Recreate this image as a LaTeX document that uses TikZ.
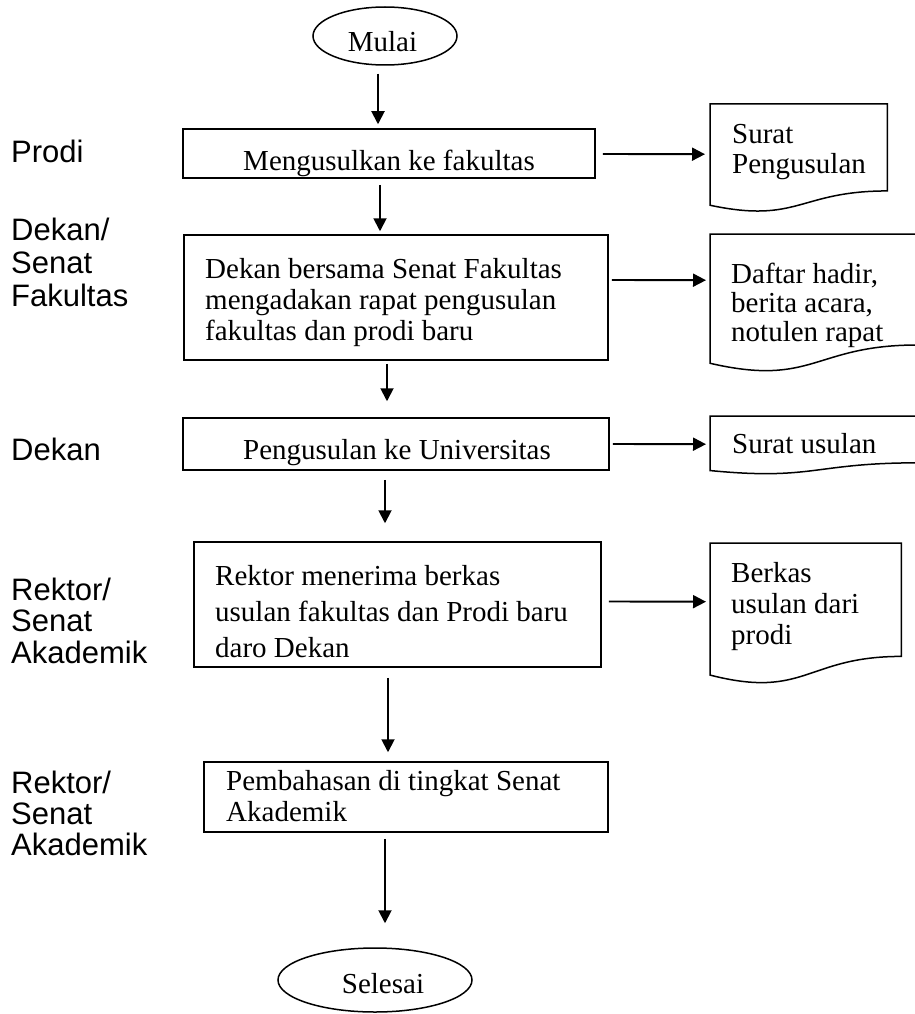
\documentclass[tikz,border=0pt]{standalone}
\usepackage{fontspec}
\setmainfont{Liberation Serif}
\newfontfamily\lanefont{Liberation Sans}
\usetikzlibrary{arrows.meta,calc,shapes.geometric}
% stacked lines with a given line pitch; baseline = first line
\newcommand\txtlines[2]{\parbox[t]{20cm}{\raggedright\baselineskip=#1pt\relax #2\par}}
% document symbol drawn on an invisible frame node
\newcommand\docpath[1]{%
  \draw[docline] (#1.north west) -- (#1.north east)
    -- ($(#1.north east)!0.802!(#1.south east)$)
    .. controls ($(#1.north)!0.802!(#1.south)$) and ($(#1.north)!1.1075!(#1.south)$)
    .. ($(#1.north west)!0.934!(#1.south west)$) -- cycle;}
\begin{document}
\begin{tikzpicture}[x=1pt,y=-1pt,
  flowbox/.style={draw, line width=1.5pt, rectangle, inner sep=0pt},
  docframe/.style={rectangle, inner sep=0pt, anchor=north west},
  terminal/.style={draw, line width=1.5pt, ellipse, inner sep=0pt},
  serif/.style={font=\fontsize{29}{31}\selectfont, inner sep=0pt},
  lane/.style={font=\lanefont\fontsize{31}{35}\selectfont, inner sep=0pt, anchor=base west},
  flow/.style={line width=1.9pt, -{Triangle[length=13pt,width=13pt]}},
  docline/.style={line width=1.5pt, line join=miter}
]
\useasboundingbox (0,0) rectangle (915,1014);

% lane labels
\node[lane] (l1) at (11,162) {Prodi};
\node[lane] (l2) at (11,240) {\txtlines{33}{Dekan/\\Senat\\Fakultas}};
\node[lane] (l3) at (11,460) {Dekan};
\node[lane] (l4) at (11,600) {\txtlines{31.5}{Rektor/\\Senat\\Akademik}};
\node[lane] (l5) at (11,793) {\txtlines{31}{Rektor/\\Senat\\Akademik}};

% terminals
\node[terminal, minimum width=144pt, minimum height=58pt] (start) at (385,36) {};
\node[serif, anchor=base] (startT) at (382.5,52) {Mulai};
\node[terminal, minimum width=194pt, minimum height=64pt] (stop) at (375,980) {};
\node[serif, anchor=base] (stopT) at (383,993) {Selesai};

% process boxes
\node[flowbox, minimum width=412pt, minimum height=49pt] (b1) at (389,153.5) {};
\begin{scope}
  \clip (b1.south west) rectangle (b1.north east);
  \node[serif, anchor=base] (b1T) at (389,170) {Mengusulkan ke fakultas};
\end{scope}

\node[flowbox, minimum width=424pt, minimum height=125pt] (b2) at (396,297.5) {};
\node[serif, anchor=base west] (b2T) at (205,278)
  {\txtlines{31}{Dekan bersama Senat Fakultas\\mengadakan rapat pengusulan\\fakultas dan prodi baru}};

\node[flowbox, minimum width=426pt, minimum height=52pt] (b3) at (396,444) {};
\node[serif, anchor=base] (b3T) at (397,459) {Pengusulan ke Universitas};

\node[flowbox, minimum width=407pt, minimum height=125pt] (b4) at (397.5,604.5) {};
\node[serif, anchor=base west] (b4T) at (215,585)
  {\txtlines{36}{Rektor menerima berkas\\usulan fakultas dan Prodi baru\\daro Dekan}};

\node[flowbox, minimum width=404pt, minimum height=70pt] (b5) at (406,797) {};
\node[serif, anchor=base west] (b5T) at (226,790)
  {\txtlines{31}{Pembahasan di tingkat Senat\\Akademik}};

% documents
\node[docframe, minimum width=177pt, minimum height=108pt] (d1) at (710,104) {};
\docpath{d1}
\node[serif, anchor=base west] (d1T) at (732,143) {\txtlines{30}{Surat\\Pengusulan}};

\node[docframe, minimum width=207pt, minimum height=138pt] (d2) at (710,234) {};
\docpath{d2}
\node[serif, anchor=base west] (d2T) at (731,283) {\txtlines{29}{Daftar hadir,\\berita acara,\\notulen rapat}};

\node[docframe, minimum width=207pt, minimum height=58pt] (d3) at (710,416) {};
\docpath{d3}
\node[serif, anchor=base west] (d3T) at (732,453) {Surat usulan};

\node[docframe, minimum width=191pt, minimum height=141pt] (d4) at (710,543) {};
\docpath{d4}
\node[serif, anchor=base west] (d4T) at (731,582) {\txtlines{31}{Berkas\\usulan dari\\prodi}};

% main flow
\draw[flow] ($(start.south)+(-7,8)$) -- ($(b1.north)+(-11,-4)$);
\draw[flow] ($(b1.south)+(-9,6)$) -- ($(b2.north)+(-16,-3)$);
\draw[flow] ($(b2.south)+(-9,3)$) -- ($(b3.north)+(-9,-16)$);
\draw[flow] ($(b3.south)+(-11,9)$) -- ($(b4.north)+(-12.5,-18)$);
\draw[flow] ($(b4.south)+(-9.5,10)$) -- ($(b5.north)+(-18,-9)$);
\draw[flow] ($(b5.south)+(-21,6)$) -- ($(stop.north)+(10,-24)$);

% outputs
\draw[flow] ($(b1.east)+(7,0.5)$) -- ($(d1.west)+(-5,-4)$);
\draw[flow] ($(b2.east)+(3,-17.5)$) -- ($(d2.west)+(-4,-23)$);
\draw[flow] ($(b3.east)+(3,0)$) -- ($(d3.west)+(-4,-1)$);
\draw[flow] ($(b4.east)+(7,-3)$) -- ($(d4.west)+(-4,-12)$);
\end{tikzpicture}
\end{document}
